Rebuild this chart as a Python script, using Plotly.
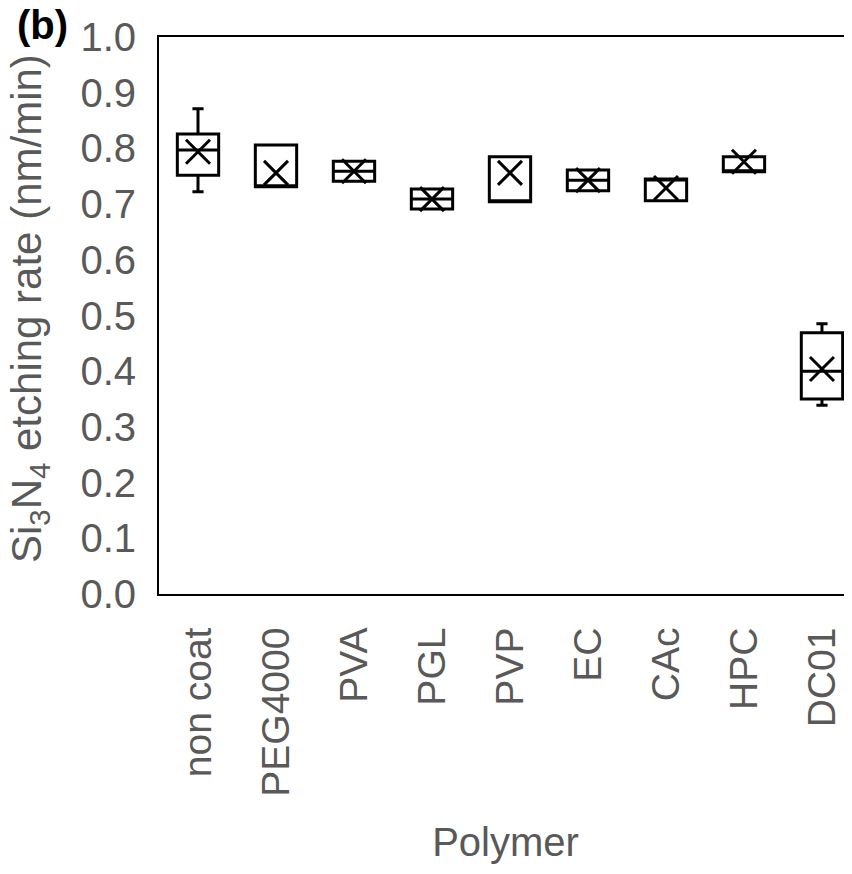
import plotly.graph_objects as go

categories = ["non coat", "PEG4000", "PVA", "PGL", "PVP", "EC", "CAc", "HPC", "DC01"]
lower = [0.722, 0.731, 0.741, 0.691, 0.704, 0.724, 0.706, 0.758, 0.339]
q1 = [0.752, 0.731, 0.741, 0.691, 0.704, 0.724, 0.706, 0.758, 0.350]
median = [0.797, 0.731, 0.759, 0.709, 0.704, 0.743, 0.745, 0.758, 0.400]
q3 = [0.826, 0.806, 0.777, 0.727, 0.785, 0.761, 0.745, 0.785, 0.469]
upper = [0.871, 0.806, 0.777, 0.727, 0.785, 0.761, 0.745, 0.785, 0.485]
means = [0.794, 0.756, 0.759, 0.709, 0.756, 0.743, 0.729, 0.776, 0.404]
yticks = [0.0, 0.1, 0.2, 0.3, 0.4, 0.5, 0.6, 0.7, 0.8, 0.9, 1.0]

FONT = "Liberation Sans, Arial, sans-serif"
GRAY = "#595959"
FS = 40

fig = go.Figure()
fig.add_trace(go.Box(
    x=categories, q1=q1, median=median, q3=q3,
    lowerfence=lower, upperfence=upper,
    fillcolor="white", line=dict(color="black", width=3),
    width=0.53, whiskerwidth=0.27, boxpoints=False, showlegend=False,
    hoverinfo="skip",
))
fig.add_trace(go.Scatter(
    x=categories, y=means, mode="markers",
    marker=dict(symbol="x-thin-open", size=24, color="black",
                line=dict(color="black", width=3)),
    showlegend=False, hoverinfo="skip",
))

# page body has an 8px default margin; compensate so the plot sits where the reference has it
fig.update_layout(
    width=844, height=866,
    margin=dict(l=151, r=0, t=29, b=280, autoexpand=False),
    paper_bgcolor="white", plot_bgcolor="white",
    font=dict(family=FONT, size=FS, color=GRAY),
    xaxis=dict(
        type="category", range=[-0.5, 8.385],
        showline=True, linecolor="black", linewidth=2, mirror=True,
        showgrid=False, zeroline=False, ticks="",
        tickangle=-90, tickfont=dict(size=39, color=GRAY),
        ticklabelstandoff=16, automargin=False,
        title=dict(text="Polymer", font=dict(size=FS, color=GRAY), standoff=32),
    ),
    yaxis=dict(
        range=[0, 1.0], tickvals=yticks, tickformat=".1f",
        showline=True, linecolor="black", linewidth=2, mirror=False,
        showgrid=False, zeroline=False, ticks="", automargin=False,
        tickfont=dict(size=FS, color=GRAY), ticklabelstandoff=13,
    ),
    annotations=[
        dict(text="<b>(b)</b>", xref="paper", yref="paper",
             x=-0.208, y=1.0215, xanchor="left", yanchor="middle",
             showarrow=False, font=dict(family=FONT, size=FS, color="black")),
        dict(text="Si<sub>3</sub>N<sub>4</sub> etching rate (nm/min)",
             xref="paper", yref="paper", x=-0.186, y=0.5117,
             xanchor="center", yanchor="middle", textangle=-90,
             showarrow=False, font=dict(family=FONT, size=42, color=GRAY)),
    ],
)

fig.write_html("out.html")
